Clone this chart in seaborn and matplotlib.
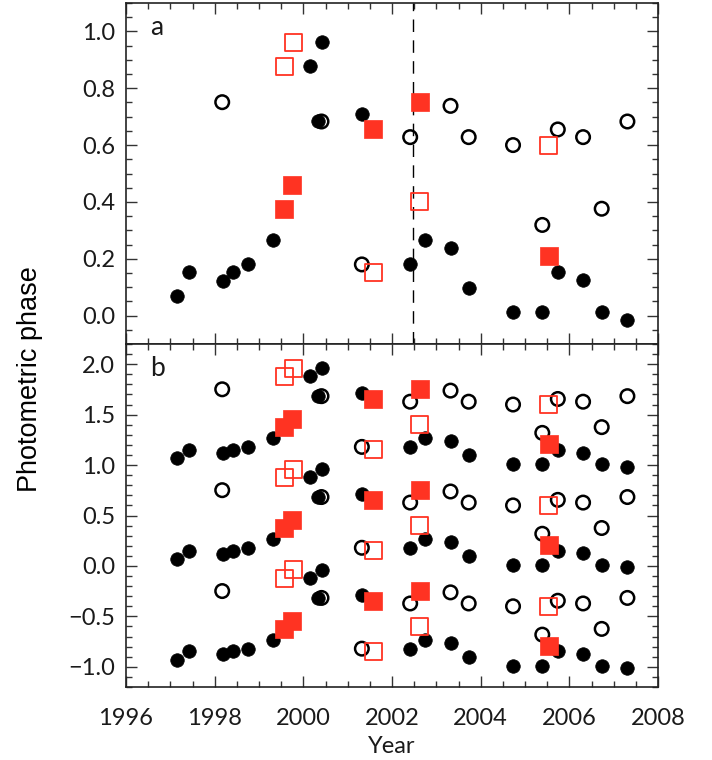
import numpy as np
import pandas as pd
import matplotlib
matplotlib.use("Agg")
import matplotlib.pyplot as plt
import seaborn as sns
from matplotlib.ticker import MultipleLocator

sns.set_theme(style="white")
plt.rcParams['font.family'] = ['Lato', 'DejaVu Sans']

# Filled black circles
fc_year = [1997.16, 1997.41, 1998.18, 1998.42, 1998.75, 1999.32, 2000.15, 2000.41, 2000.32,
           2001.33, 2002.41, 2002.74, 2003.32, 2003.73, 2004.73, 2005.39, 2005.74, 2006.31,
           2006.73, 2007.31]
fc_phase = [0.07, 0.152, 0.123, 0.152, 0.18, 0.265, 0.878, 0.962, 0.683,
            0.710, 0.18, 0.265, 0.237, 0.096, 0.013, 0.013, 0.152, 0.124,
            0.013, -0.015]
# Open black circles
oc_year = [1998.17, 2000.41, 2001.32, 2002.41, 2003.32, 2003.73, 2004.73, 2005.74,
           2006.31, 2007.31, 2005.39, 2006.73]
oc_phase = [0.751, 0.683, 0.18, 0.628, 0.738, 0.628, 0.60, 0.655,
            0.628, 0.683, 0.319, 0.376]
# Filled red squares
fs_year = [1999.75, 1999.57, 2001.58, 2002.63, 2005.54]
fs_phase = [0.459, 0.376, 0.656, 0.751, 0.209]
# Open red squares
os_year = [1999.77, 1999.57, 2001.58, 2002.63, 2005.54]
os_phase = [0.960, 0.878, 0.152, 0.401, 0.60]

dashed_year = 2002.48
RED = '#ff3322'
TXT = '#1a1a1a'

fig = plt.figure(figsize=(7.12, 7.60), dpi=100)
L, W = 126 / 712, 532 / 712
axa = fig.add_axes([L, 1 - 344 / 760, W, 341 / 760])
axb = fig.add_axes([L, 1 - 687 / 760, W, 343 / 760])

def draw(ax, offsets):
    for off in offsets:
        sns.scatterplot(x=fc_year, y=np.array(fc_phase) + off, ax=ax, marker='o', s=95,
                        color='black', edgecolor='black', linewidth=0.5, zorder=3)
        sns.scatterplot(x=oc_year, y=np.array(oc_phase) + off, ax=ax, marker='o', s=95,
                        facecolor='none', edgecolor='black', linewidth=1.8, zorder=3)
        sns.scatterplot(x=fs_year, y=np.array(fs_phase) + off, ax=ax, marker='s', s=150,
                        color=RED, edgecolor=RED, linewidth=0.5, zorder=3)
        sns.scatterplot(x=os_year, y=np.array(os_phase) + off, ax=ax, marker='s', s=150,
                        facecolor='none', edgecolor=RED, linewidth=1.3, zorder=3)

draw(axa, [0])
draw(axb, [-1, 0, 1])
axa.axvline(dashed_year, color='black', linestyle=(0, (9, 6)), linewidth=1.0, zorder=1)

for ax in (axa, axb):
    ax.set_xlim(1996, 2008)
    ax.xaxis.set_major_locator(MultipleLocator(2))
    ax.xaxis.set_minor_locator(MultipleLocator(0.5))
    ax.tick_params(which='both', direction='in', top=True, right=True, left=True, bottom=True,
                   color='#333333', labelsize=17, labelcolor=TXT)
    ax.tick_params(which='major', length=8, width=1)
    ax.tick_params(which='minor', length=4.3, width=1)
    ax.tick_params(axis='y', pad=8)
    for sp in ax.spines.values():
        sp.set_color('#222222')
        sp.set_linewidth(1.2)
    ax.set_xlabel('')
    ax.set_ylabel('')

axa.set_ylim(-0.1, 1.1)
axa.set_yticks([0.0, 0.2, 0.4, 0.6, 0.8, 1.0])
axa.set_yticklabels(['0.0', '0.2', '0.4', '0.6', '0.8', '1.0'])
axa.yaxis.set_minor_locator(MultipleLocator(0.05))
axa.tick_params(labelbottom=False)

axb.set_ylim(-1.2, 2.2)
axb.set_yticks([-1.0, -0.5, 0.0, 0.5, 1.0, 1.5, 2.0])
axb.set_yticklabels(['\u22121.0', '\u22120.5', '0.0', '0.5', '1.0', '1.5', '2.0'])
axb.yaxis.set_minor_locator(MultipleLocator(0.1))
axb.set_xticks([1996, 1998, 2000, 2002, 2004, 2006, 2008])
axb.set_xticklabels(['1996', '1998', '2000', '2002', '2004', '2006', '2008'])
axb.tick_params(axis='x', pad=15)
axb.set_xlabel('Year', fontsize=17, color=TXT, labelpad=5)

axa.text(0.045, 0.965, 'a', transform=axa.transAxes, fontsize=19, va='top', ha='left',
         color=TXT)
axb.text(0.045, 0.965, 'b', transform=axb.transAxes, fontsize=19, va='top', ha='left',
         color=TXT)

fig.text(0.042, 0.501, 'Photometric phase', rotation=90, va='center', ha='center',
         fontsize=19.5, color='black', family=['Liberation Sans', 'DejaVu Sans'])

fig.savefig('out.png', dpi=100)
